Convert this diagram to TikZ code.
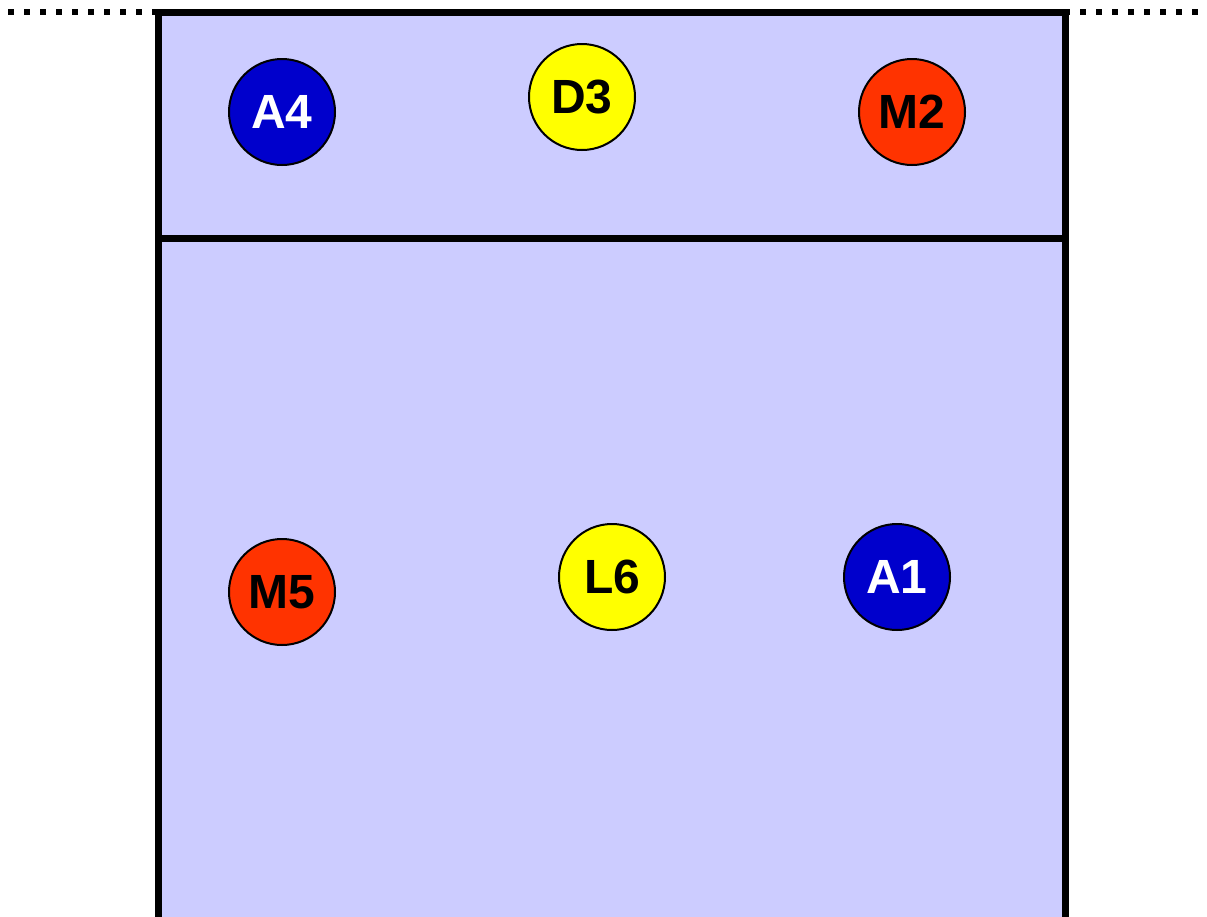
\documentclass[tikz,border=0pt]{standalone}
\usepackage{fontspec}
\setmainfont{Liberation Sans}
\definecolor{courtbg}{HTML}{CCCCFF}
\definecolor{pblue}{HTML}{0000CC}
\definecolor{pred}{HTML}{FF3300}
\definecolor{pyellow}{HTML}{FFFF00}
\begin{document}
\begin{tikzpicture}[x=1pt,y=-1pt,
  player/.style={circle,draw=black,line width=2pt,minimum size=106pt,inner sep=0pt,
    font=\fontsize{48}{48}\selectfont\bfseries},
  bluep/.style={player,fill=pblue,text=white},
  redp/.style={player,fill=pred,text=black},
  yellowp/.style={player,fill=pyellow,text=black},
  courtline/.style={line width=7pt,draw=black},
  netline/.style={line width=6pt,draw=black,dash pattern=on 6pt off 10pt}]
\useasboundingbox (0,0) rectangle (1207,916);
\coordinate (nl) at (8,12);
\coordinate (nr) at (1207,12);
\draw[netline] (nl) -- (nr);
\fill[courtbg] (158,12) rectangle (1065,920);
\draw[courtline] (158,920) -- (158,12) -- (1065,12) -- (1065,920) -- cycle;
\coordinate (al) at (158,238);
\coordinate (ar) at (1065,238);
\draw[courtline] (al) -- (ar);
\node[bluep] (A4) at (282,112) {A4};
\node[yellowp] (D3) at (582,97) {D3};
\node[redp] (M2) at (912,112) {M2};
\node[redp] (M5) at (282,592) {M5};
\node[yellowp] (L6) at (612,577) {L6};
\node[bluep] (A1) at (897,577) {A1};
\end{tikzpicture}
\end{document}
